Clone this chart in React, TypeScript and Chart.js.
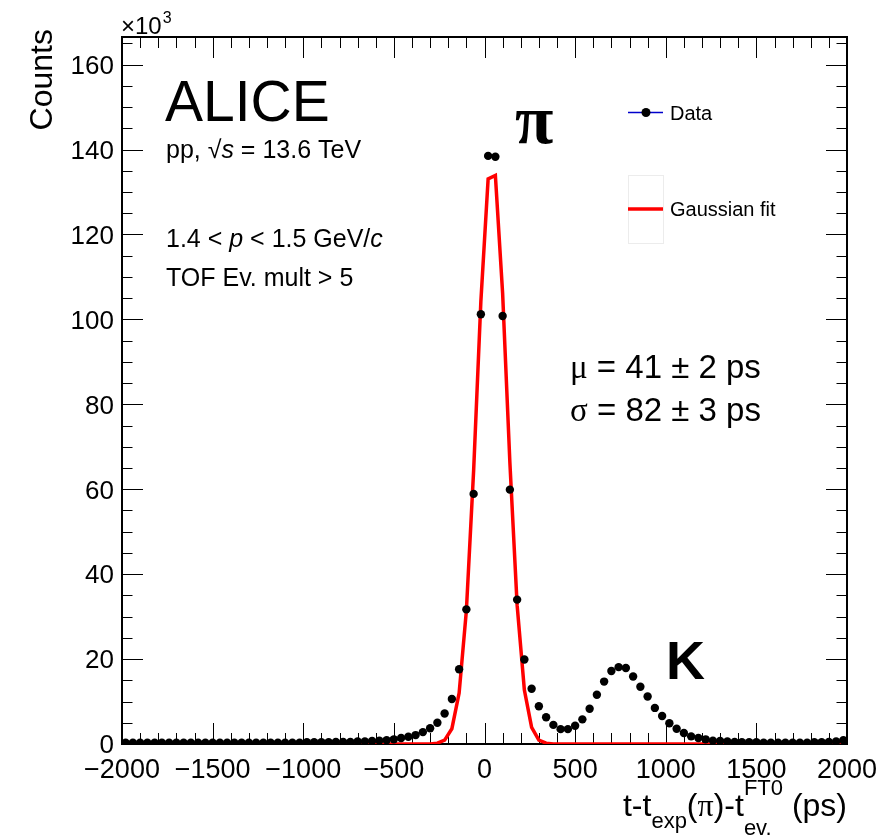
import React, { useEffect, useRef } from "react";
import { Chart, registerables } from "chart.js";

Chart.register(...registerables);

// Bin centres (ps), 40 ps bins from -2000 to 2000
const binCenters = [
  -1980, -1940, -1900, -1860, -1820, -1780, -1740, -1700, -1660, -1620,
  -1580, -1540, -1500, -1460, -1420, -1380, -1340, -1300, -1260, -1220,
  -1180, -1140, -1100, -1060, -1020, -980, -940, -900, -860, -820,
  -780, -740, -700, -660, -620, -580, -540, -500, -460, -420,
  -380, -340, -300, -260, -220, -180, -140, -100, -60, -20,
  20, 60, 100, 140, 180, 220, 260, 300, 340, 380,
  420, 460, 500, 540, 580, 620, 660, 700, 740, 780,
  820, 860, 900, 940, 980, 1020, 1060, 1100, 1140, 1180,
  1220, 1260, 1300, 1340, 1380, 1420, 1460, 1500, 1540, 1580,
  1620, 1660, 1700, 1740, 1780, 1820, 1860, 1900, 1940, 1980,
];

// Data counts (x10^3)
const dataCounts = [
  0.3, 0.3, 0.3, 0.3, 0.3, 0.3, 0.3, 0.3, 0.3, 0.3,
  0.3, 0.3, 0.3, 0.3, 0.3, 0.3, 0.3, 0.3, 0.3, 0.3,
  0.3, 0.3, 0.3, 0.3, 0.3, 0.4, 0.4, 0.4, 0.4, 0.5,
  0.5, 0.5, 0.6, 0.6, 0.7, 0.8, 0.9, 1.1, 1.4, 1.7,
  2.1, 2.8, 3.7, 5.0, 7.2, 10.6, 17.6, 31.7, 58.9, 101.2,
  138.5, 138.3, 100.8, 59.9, 34.0, 19.9, 13.0, 8.9, 6.3, 4.5,
  3.5, 3.5, 4.3, 5.8, 8.3, 11.6, 14.7, 17.2, 18.1, 17.9,
  15.9, 13.5, 11.2, 8.5, 6.6, 4.9, 3.6, 2.6, 1.8, 1.4,
  1.1, 0.8, 0.7, 0.6, 0.5, 0.4, 0.4, 0.4, 0.3, 0.3,
  0.3, 0.3, 0.3, 0.3, 0.3, 0.4, 0.4, 0.5, 0.6, 0.9,
];

// Gaussian fit evaluated at the bin centres (x10^3)
const fitCounts = [
  0, 0, 0, 0, 0, 0, 0, 0, 0, 0,
  0, 0, 0, 0, 0, 0, 0, 0, 0, 0,
  0, 0, 0, 0, 0, 0, 0, 0, 0, 0,
  0, 0, 0, 0, 0, 0, 0, 0, 0, 0,
  0, 0, 0.02, 0.2, 0.9, 3.6, 12.0, 31.4, 64.4, 104.3,
  133.1, 133.9, 106.1, 66.3, 32.7, 12.7, 3.9, 0.9, 0.2, 0,
  0, 0, 0, 0, 0, 0, 0, 0, 0, 0,
  0, 0, 0, 0, 0, 0, 0, 0, 0, 0,
  0, 0, 0, 0, 0, 0, 0, 0, 0, 0,
  0, 0, 0, 0, 0, 0, 0, 0, 0, 0,
];

const xTickValues = [-2000, -1500, -1000, -500, 0, 500, 1000, 1500, 2000];
const xTickLabels = ["\u22122000", "\u22121500", "\u22121000", "\u2212500", "0", "500", "1000", "1500", "2000"];
const yTickValues = [0, 20, 40, 60, 80, 100, 120, 140, 160];
const yTickLabels = ["0", "20", "40", "60", "80", "100", "120", "140", "160"];

const X_MIN = -2000;
const X_MAX = 2000;
const Y_MIN = 0;
const Y_MAX = 166.5;

const W = 892;
const H = 836;

const SANS = '"Liberation Sans", Arial, Helvetica, sans-serif';
const SERIF = '"Liberation Serif", "Times New Roman", serif';

type Run = { text: string; font: string; dy?: number };

function drawRuns(ctx: CanvasRenderingContext2D, x: number, y: number, runs: Run[]) {
  let cx = x;
  for (const r of runs) {
    ctx.font = r.font;
    ctx.fillText(r.text, cx, y + (r.dy || 0));
    cx += ctx.measureText(r.text).width;
  }
  return cx;
}

const rootStyle = {
  id: "rootStyle",
  beforeDatasetsDraw(chart: any) {
    const ctx: CanvasRenderingContext2D = chart.ctx;
    const { left, right, top, bottom } = chart.chartArea;
    const xs = chart.scales.x;
    const ys = chart.scales.y;
    ctx.save();
    ctx.strokeStyle = "#000";
    ctx.lineWidth = 1;
    ctx.beginPath();
    for (let v = X_MIN; v <= X_MAX; v += 100) {
      const px = Math.round(xs.getPixelForValue(v)) + 0.5;
      const len = v % 500 === 0 ? 21 : 11;
      ctx.moveTo(px, bottom);
      ctx.lineTo(px, bottom - len);
      ctx.moveTo(px, top);
      ctx.lineTo(px, top + len);
    }
    for (let v = Y_MIN; v <= Y_MAX; v += 5) {
      const py = Math.round(ys.getPixelForValue(v)) + 0.5;
      const len = v % 20 === 0 ? 21 : 10.5;
      ctx.moveTo(left, py);
      ctx.lineTo(left + len, py);
      ctx.moveTo(right, py);
      ctx.lineTo(right - len, py);
    }
    ctx.stroke();
    ctx.lineWidth = 2;
    ctx.strokeRect(left, top, right - left, bottom - top);
    ctx.restore();
  },
  afterDatasetsDraw(chart: any) {
    const ctx: CanvasRenderingContext2D = chart.ctx;
    const xs = chart.scales.x;
    const ys = chart.scales.y;
    const { left, right } = chart.chartArea;
    ctx.save();
    ctx.fillStyle = "#000";
    ctx.textBaseline = "alphabetic";

    // x tick labels
    ctx.font = `27px ${SANS}`;
    ctx.textAlign = "center";
    xTickValues.forEach((v, i) => {
      ctx.fillText(xTickLabels[i], xs.getPixelForValue(v), 778);
    });
    // y tick labels
    ctx.font = `26px ${SANS}`;
    ctx.textAlign = "right";
    yTickValues.forEach((v, i) => {
      ctx.fillText(yTickLabels[i], 114, ys.getPixelForValue(v) + 9.3);
    });

    // x10^3
    ctx.textAlign = "left";
    const cx = drawRuns(ctx, left - 1, 34, [{ text: "\u00d710", font: `24px ${SANS}` }]);
    drawRuns(ctx, cx + 1, 23, [{ text: "3", font: `16px ${SANS}` }]);

    // y title (rotated)
    ctx.save();
    ctx.translate(52, 29);
    ctx.rotate(-Math.PI / 2);
    ctx.textAlign = "right";
    ctx.font = `32px ${SANS}`;
    ctx.fillText("Counts", 0, 0);
    ctx.restore();

    // x title, right-aligned to the axis end
    ctx.textAlign = "left";
    const main = `32px ${SANS}`;
    const small = `22px ${SANS}`;
    const runsA: Run[] = [
      { text: "t-t", font: main },
      { text: "exp", font: small, dy: 12 },
      { text: "(", font: main },
      { text: "\u03c0", font: `32px ${SERIF}` },
      { text: ")", font: main },
      { text: "-t", font: main },
    ];
    const runsB: Run[] = [{ text: " (ps)", font: main }];
    const measure = (runs: Run[]) =>
      runs.reduce((w, r) => {
        ctx.font = r.font;
        return w + ctx.measureText(r.text).width;
      }, 0);
    ctx.font = small;
    const supW = Math.max(ctx.measureText("FT0").width, ctx.measureText("ev.").width);
    const total = measure(runsA) + supW + measure(runsB);
    const titleBase = 816;
    let tx = right - total;
    tx = drawRuns(ctx, tx, titleBase, runsA);
    ctx.font = small;
    ctx.fillText("FT0", tx, titleBase - 21);
    ctx.fillText("ev.", tx, titleBase + 19);
    tx += supW;
    drawRuns(ctx, tx, titleBase, runsB);

    // ALICE block
    ctx.font = `57px ${SANS}`;
    ctx.fillText("ALICE", 165, 121);
    drawRuns(ctx, 166, 158, [
      { text: "pp, ", font: `25px ${SANS}` },
      { text: "\u221a", font: `25px ${SANS}` },
      { text: "s", font: `italic 25px ${SANS}` },
      { text: " = 13.6 TeV", font: `25px ${SANS}` },
    ]);
    drawRuns(ctx, 166, 247, [
      { text: "1.4 < ", font: `25px ${SANS}` },
      { text: "p", font: `italic 25px ${SANS}` },
      { text: " < 1.5 GeV/", font: `25px ${SANS}` },
      { text: "c", font: `italic 25px ${SANS}` },
    ]);
    drawRuns(ctx, 166, 286, [{ text: "TOF Ev. mult > 5", font: `25px ${SANS}` }]);

    // pi and K labels
    ctx.font = `bold 70px ${SERIF}`;
    ctx.fillText("\u03c0", 515, 143);
    ctx.font = `bold 54px ${SANS}`;
    ctx.fillText("K", 666, 679);

    // mu, sigma
    drawRuns(ctx, 570, 378, [
      { text: "\u03bc", font: `33px ${SERIF}` },
      { text: " = 41 \u00b1 2 ps", font: `33px ${SANS}` },
    ]);
    drawRuns(ctx, 570, 421, [
      { text: "\u03c3", font: `33px ${SERIF}` },
      { text: " = 82 \u00b1 3 ps", font: `33px ${SANS}` },
    ]);

    // legend
    ctx.strokeStyle = "#0000cc";
    ctx.lineWidth = 1.5;
    ctx.beginPath();
    ctx.moveTo(628, 112.5);
    ctx.lineTo(663, 112.5);
    ctx.stroke();
    ctx.beginPath();
    ctx.arc(646, 112.5, 4.5, 0, Math.PI * 2);
    ctx.fill();
    ctx.font = `20px ${SANS}`;
    ctx.fillText("Data", 670, 120);

    ctx.strokeStyle = "#ececec";
    ctx.lineWidth = 1;
    ctx.strokeRect(628.5, 175.5, 35, 68);
    ctx.strokeStyle = "#ff0000";
    ctx.lineWidth = 3.5;
    ctx.beginPath();
    ctx.moveTo(628, 209);
    ctx.lineTo(663, 209);
    ctx.stroke();
    ctx.fillText("Gaussian fit", 670, 216);

    ctx.restore();
  },
};

export default function App() {
  const ref = useRef<HTMLCanvasElement>(null);
  useEffect(() => {
    document.body.style.margin = "0";
    document.body.style.overflow = "hidden";
    const canvas = ref.current;
    if (!canvas) return;
    const chart = new Chart(canvas, {
      type: "line",
      data: {
        datasets: [
          {
            label: "Data",
            data: binCenters.map((x, i) => ({ x, y: dataCounts[i] })),
            showLine: false,
            pointRadius: 4.2,
            pointBackgroundColor: "#000",
            pointBorderColor: "#000",
            pointBorderWidth: 0,
            borderColor: "#0000cc",
            order: 0,
          },
          {
            label: "Gaussian fit",
            data: binCenters.map((x, i) => ({ x, y: fitCounts[i] })),
            borderColor: "#ff0000",
            borderWidth: 3.5,
            pointRadius: 0,
            tension: 0,
            fill: false,
            order: 1,
          },
        ],
      },
      options: {
        responsive: false,
        animation: false,
        events: [],
        layout: { padding: { top: 37, right: 45, left: 0, bottom: 0 } },
        plugins: {
          legend: { display: false },
          tooltip: { enabled: false },
          title: { display: false },
        },
        scales: {
          x: {
            type: "linear",
            min: X_MIN,
            max: X_MAX,
            grid: { display: false },
            border: { display: false },
            ticks: { display: false },
            afterFit: (s: any) => {
              s.height = H - 744;
            },
          },
          y: {
            type: "linear",
            min: Y_MIN,
            max: Y_MAX,
            grid: { display: false },
            border: { display: false },
            ticks: { display: false },
            afterFit: (s: any) => {
              s.width = 122;
            },
          },
        },
      } as any,
      plugins: [rootStyle as any],
    });
    return () => chart.destroy();
  }, []);
  return (
    <div style={{ width: W, height: H }}>
      <canvas ref={ref} width={W} height={H} style={{ display: "block", width: W, height: H }} />
    </div>
  );
}
